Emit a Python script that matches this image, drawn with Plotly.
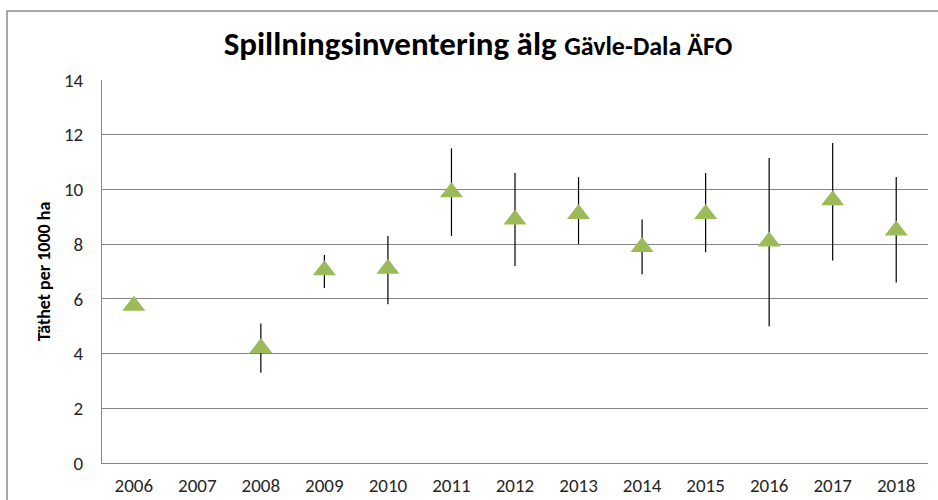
import plotly.graph_objects as go

years = ["2006", "2007", "2008", "2009", "2010", "2011", "2012",
         "2013", "2014", "2015", "2016", "2017", "2018"]
density = [5.75, None, 4.2, 7.05, 7.1, 9.9, 8.9, 9.1, 7.9, 9.1, 8.1, 9.6, 8.5]
upper = [None, None, 5.1, 7.6, 8.3, 11.5, 10.6, 10.45, 8.9, 10.6, 11.15, 11.7, 10.45]
lower = [None, None, 3.3, 6.4, 5.8, 8.3, 7.2, 8.0, 6.9, 7.7, 5.0, 7.4, 6.6]

err_plus = [(u - d) if (u is not None and d is not None) else 0 for u, d in zip(upper, density)]
err_minus = [(d - l) if (l is not None and d is not None) else 0 for l, d in zip(lower, density)]

FONT = "Carlito, 'Liberation Sans Narrow', 'DejaVu Sans Condensed', sans-serif"

fig = go.Figure()
fig.add_trace(go.Scatter(
    x=years, y=density, mode="markers",
    marker=dict(symbol="triangle-up", size=20, color="#9BBB59", line=dict(width=0)),
    error_y=dict(type="data", symmetric=False, array=err_plus, arrayminus=err_minus,
                 color="#000000", thickness=1.2, width=0),
    showlegend=False,
))

W, H = 938, 500
L, R, T, B = 102, 10, 80, 37
pw, ph = W - L - R, H - T - B

def px_x(p):
    return (p - L) / pw

def px_y(p):
    return (H - B - p) / ph

fig.update_layout(
    width=W, height=H,
    margin=dict(l=L, r=R, t=T, b=B, autoexpand=False),
    paper_bgcolor="white", plot_bgcolor="white",
    font=dict(family=FONT, color="#262626"),
    title=dict(
        text="<b>Spillningsinventering älg <span style='font-size:26px'>Gävle-Dala ÄFO</span></b>",
        x=478 / W, xanchor="center", y=1 - 43 / H, yanchor="middle",
        font=dict(size=33, family=FONT, color="#000000"),
    ),
    xaxis=dict(
        type="category", categoryorder="array", categoryarray=years,
        range=[-0.5, len(years) - 0.5],
        showgrid=False, showline=True, linecolor="#868686", linewidth=1,
        ticks="", tickfont=dict(size=19, family=FONT, color="#262626"),
        ticklabelstandoff=5, zeroline=False, automargin=False,
    ),
    yaxis=dict(
        range=[0, 14], dtick=2, tick0=0,
        showgrid=True, gridcolor="#868686", gridwidth=1,
        showline=True, linecolor="#868686", linewidth=1,
        ticks="", tickfont=dict(size=19, family=FONT, color="#262626"),
        ticklabelstandoff=14, zeroline=False, automargin=False,
        title=dict(text="<b>Täthet per 1000 ha</b>", font=dict(size=18, family=FONT, color="#000000"),
                   standoff=8),
    ),
    shapes=[dict(type="rect", xref="paper", yref="paper",
                 x0=px_x(7), x1=px_x(960), y0=px_y(520), y1=px_y(11),
                 line=dict(color="#8c8c8c", width=1.5), fillcolor="rgba(0,0,0,0)", layer="below")],
)

fig.write_html("out.html", config={"displayModeBar": False},
               post_script="document.body.style.margin='0px';")
